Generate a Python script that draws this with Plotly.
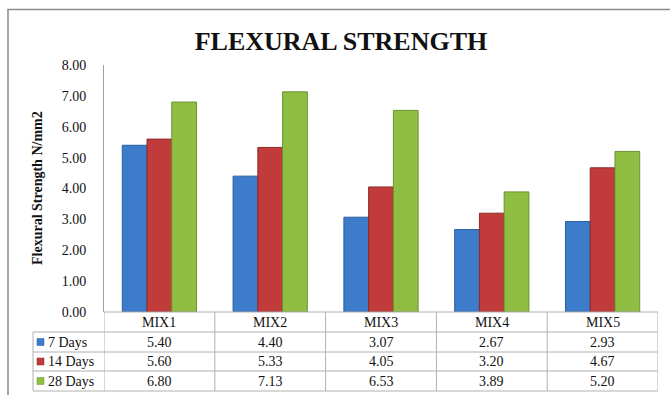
import plotly.graph_objects as go

# Flexural strength results (N/mm2) by mix and curing age
mixes = ["MIX1", "MIX2", "MIX3", "MIX4", "MIX5"]
days_7 = [5.40, 4.40, 3.07, 2.67, 2.93]
days_14 = [5.60, 5.33, 4.05, 3.20, 4.67]
days_28 = [6.80, 7.13, 6.53, 3.89, 5.20]
series_names = ["7 Days", "14 Days", "28 Days"]
y_ticks = [0, 1, 2, 3, 4, 5, 6, 7, 8]

colors = ["#3C7CCB", "#C23B3B", "#8FBE42"]
edges = ["#2A5E9E", "#8E2A2A", "#6A9230"]
serif = "Liberation Serif, Times New Roman, serif"

W, H = 670, 395
ML, MR, MT, MB = 104, 12, 65, 83
plot_h = H - MT - MB
plot_w = W - ML - MR


def py(px):
    """Pixel row (from top) -> paper y."""
    return (H - MB - px) / plot_h


def pxx(px):
    """Pixel column (from left) -> paper x."""
    return (px - ML) / plot_w


fig = go.Figure()
for name, vals, c, e in zip(series_names, [days_7, days_14, days_28], colors, edges):
    fig.add_trace(go.Bar(
        x=mixes, y=vals, name=name,
        marker=dict(color=c, line=dict(color=e, width=1)),
        showlegend=False, hoverinfo="x+y+name",
    ))

shapes = []
annotations = []

# Data table below the plot
row_tops = [312, 332, 352, 371, 391]
grid = "#B0B0B0"
legend_left = 33
n = len(mixes)
# horizontal lines
for i, yt in enumerate(row_tops):
    x0 = ML if i == 0 else legend_left
    shapes.append(dict(type="line", xref="paper", yref="paper",
                       x0=pxx(x0), x1=1, y0=py(yt), y1=py(yt),
                       line=dict(color=grid, width=1)))
# vertical lines at category boundaries
for k in range(n + 1):
    shapes.append(dict(type="line", xref="x", yref="paper",
                       x0=k - 0.5, x1=k - 0.5, y0=py(row_tops[0]), y1=py(row_tops[-1]),
                       line=dict(color=grid, width=1)))
shapes.append(dict(type="line", xref="paper", yref="paper",
                   x0=pxx(legend_left), x1=pxx(legend_left),
                   y0=py(row_tops[1]), y1=py(row_tops[-1]),
                   line=dict(color=grid, width=1)))

cell_font = dict(family=serif, size=14, color="#111")

# header labels
for m in mixes:
    annotations.append(dict(xref="x", yref="paper", x=m,
                            y=py((row_tops[0] + row_tops[1]) / 2), text=m,
                            xanchor="center", yanchor="middle",
                            showarrow=False, font=cell_font))

# value rows with legend keys
for r, (name, vals, c) in enumerate(zip(series_names, [days_7, days_14, days_28], colors)):
    yc = (row_tops[r + 1] + row_tops[r + 2]) / 2
    for m, v in zip(mixes, vals):
        annotations.append(dict(xref="x", yref="paper", x=m, y=py(yc),
                                xanchor="center", yanchor="middle",
                                text=f"{v:.2f}", showarrow=False, font=cell_font))
    shapes.append(dict(type="rect", xref="paper", yref="paper",
                       x0=pxx(37), x1=pxx(44), y0=py(yc + 3.5), y1=py(yc - 3.5),
                       fillcolor=c, line=dict(color=edges[r], width=0.5)))
    annotations.append(dict(xref="paper", yref="paper", x=pxx(46), y=py(yc),
                            xanchor="left", yanchor="middle", text=name,
                            showarrow=False, font=cell_font))

# outer chart frame
shapes.append(dict(type="rect", xref="paper", yref="paper",
                   x0=pxx(8), x1=pxx(680), y0=py(9.5), y1=py(405),
                   line=dict(color="#8A8A8A", width=1.5), fillcolor="rgba(0,0,0,0)"))

# y-axis title
annotations.append(dict(xref="paper", yref="paper", x=pxx(37), y=py(188),
                        xanchor="center", yanchor="middle",
                        text="<b>Flexural Strength N/mm2</b>", textangle=-90,
                        showarrow=False, font=dict(family=serif, size=14, color="#111")))

fig.update_layout(
    width=W, height=H,
    margin=dict(l=ML, r=MR, t=MT, b=MB),
    paper_bgcolor="white", plot_bgcolor="white",
    title=dict(text="<b>FLEXURAL STRENGTH</b>", x=341 / W, xanchor="center",
               xref="container", y=1 - 41 / H, yanchor="middle",
               font=dict(family=serif, size=26, color="#111")),
    barmode="group", bargap=0.33, bargroupgap=0,
    xaxis=dict(showticklabels=False, showline=False, showgrid=False,
               range=[-0.5, n - 0.5], zeroline=False),
    yaxis=dict(range=[0, 8], tickvals=y_ticks, tickformat=".2f",
               showgrid=False, zeroline=False, showline=True,
               linecolor="#A0A0A0", linewidth=1, ticks="",
               ticklabelstandoff=14,
               tickfont=dict(family=serif, size=14, color="#111")),
    shapes=shapes, annotations=annotations,
)

fig.write_html("out.html")
